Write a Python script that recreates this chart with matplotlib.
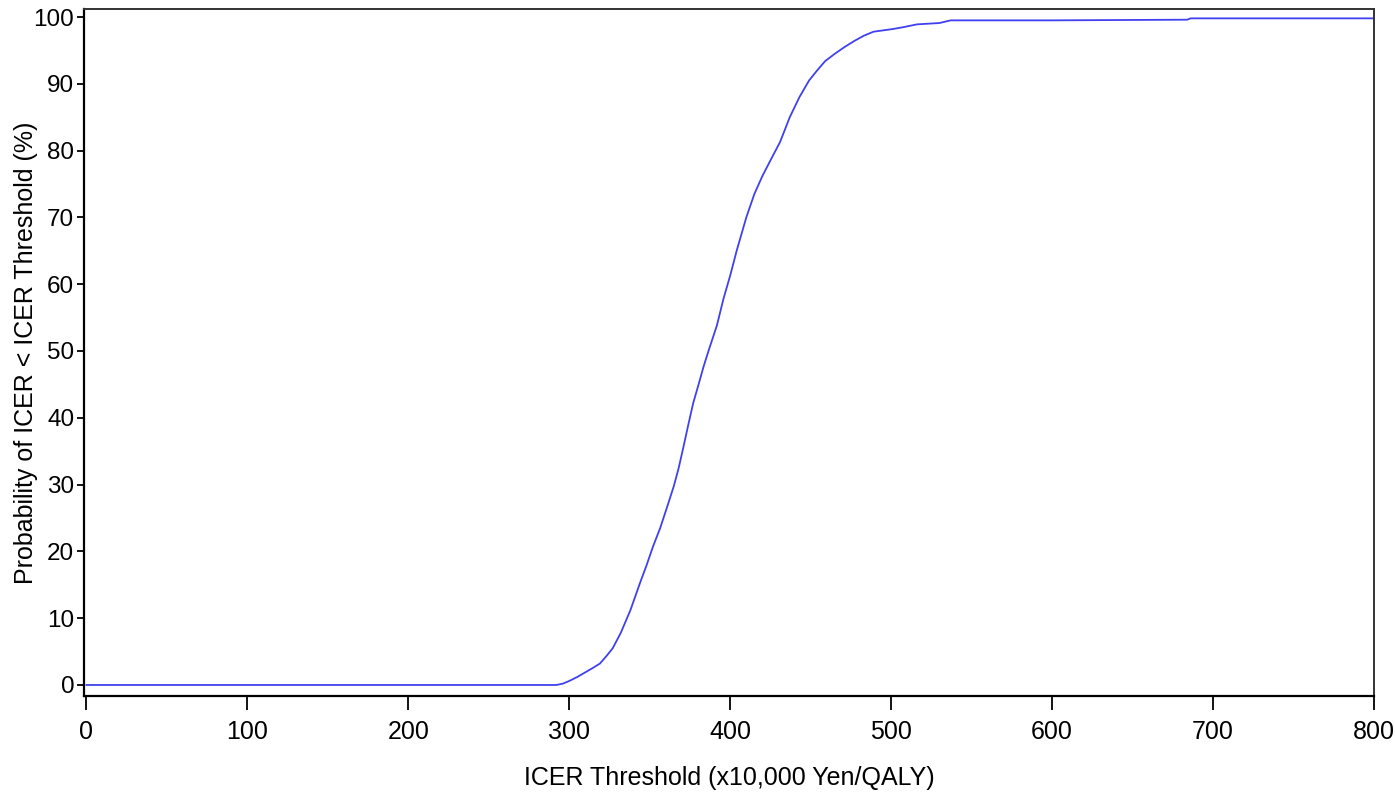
import matplotlib
matplotlib.use('Agg')
import matplotlib.pyplot as plt

# ICER threshold (x10,000 Yen/QALY) vs probability (%)
icer_threshold = [0, 292, 296, 300, 305, 310, 315, 319, 323, 327, 332, 338, 344,
                  348, 352, 356.5, 361, 365, 368, 371, 374, 377, 380, 383.5, 386.5,
                  391.7, 395.8, 400, 404, 410, 415, 420, 426, 431, 437, 443, 449,
                  454, 459, 465, 471, 477, 483, 489, 495, 501, 508, 516, 523, 530,
                  537, 600, 684, 686, 800]
probability = [0, 0, 0.2, 0.6, 1.2, 1.9, 2.6, 3.2, 4.3, 5.5, 7.8, 11.2, 15.3,
               17.9, 20.7, 23.5, 26.8, 29.8, 32.5, 35.7, 39.0, 42.2, 44.7, 47.7, 50.0,
               53.8, 57.8, 61.3, 65.0, 70.0, 73.5, 76.2, 79.0, 81.3, 85.0, 88.0, 90.5,
               92.0, 93.4, 94.5, 95.5, 96.4, 97.2, 97.8, 98.0, 98.2, 98.5, 98.9, 99.0, 99.1,
               99.5, 99.5, 99.6, 99.8, 99.8]

plt.rcParams['font.family'] = ['Liberation Sans', 'DejaVu Sans']

fig = plt.figure(figsize=(13.95, 7.92), dpi=100)
ax = fig.add_axes([84 / 1395, 1 - 696 / 792, (1374 - 84) / 1395, (696 - 9) / 792])

ax.plot(icer_threshold, probability, color='#4040F0', linewidth=1.3)

ax.set_xlim(-1.5, 800)
ax.set_ylim(-1.65, 101.2)
ax.set_xticks(range(0, 801, 100))
ax.set_yticks(range(0, 101, 10))
ax.tick_params(axis='x', direction='out', length=10, width=1.3, labelsize=18, pad=7)
ax.tick_params(axis='y', direction='out', length=5, width=1.3, labelsize=17.5, pad=2)
for side in ['left', 'bottom']:
    ax.spines[side].set_linewidth(1.6)
    ax.spines[side].set_color('black')
for side in ['top', 'right']:
    ax.spines[side].set_linewidth(1.4)
    ax.spines[side].set_color('#333333')

ax.set_xlabel('ICER Threshold (x10,000 Yen/QALY)', fontsize=18, labelpad=16)
ax.set_ylabel('Probability of ICER < ICER Threshold (%)', fontsize=18, labelpad=-3)

fig.savefig('out.png', dpi=100)
